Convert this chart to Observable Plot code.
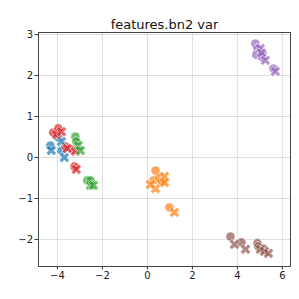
<!DOCTYPE html>
<html>
<head>
<meta charset="utf-8">
<script src="https://cdn.jsdelivr.net/npm/d3@7"></script>
<script src="https://cdn.jsdelivr.net/npm/@observablehq/plot@0.6"></script>
<style>
  html, body { margin: 0; padding: 0; background: #fff; }
</style>
</head>
<body>
<div id="chart"></div>
<script>
const title = "features.bn2 var";
const groups = ["g0", "g1", "g2", "g3", "g4", "g5"];
const palette = ["#1f77b4", "#ff7f0e", "#2ca02c", "#d62728", "#9467bd", "#8c564b"];

// circle markers
const circleGroup = ["g0","g0","g0", "g3","g3","g3","g3","g3", "g2","g2","g2","g2", "g1","g1","g1","g1","g1", "g4","g4","g4","g4","g4", "g5","g5","g5","g5","g5"];
const circleX = [-4.31,-3.96,-3.82, -4.18,-3.96,-3.64,-3.29,-3.24, -3.20,-3.16,-2.67,-2.53, 0.36,0.27,0.53,0.62,0.98, 4.80,4.89,4.84,5.11,5.60, 3.69,4.18,4.89,4.93,5.16];
const circleY = [0.29,0.49,0.17, 0.61,0.71,0.27,0.20,-0.22, 0.51,0.39,-0.56,-0.56, -0.32,-0.56,-0.49,-0.58,-1.22, 2.78,2.66,2.51,2.44,2.17, -1.93,-2.07,-2.09,-2.17,-2.22];

// cross markers
const crossGroup = ["g0","g0","g0", "g3","g3","g3","g3","g3", "g2","g2","g2","g2", "g1","g1","g1","g1","g1", "g4","g4","g4","g4","g4", "g5","g5","g5","g5","g5"];
const crossX = [-4.27,-3.82,-3.69, -4.04,-3.82,-3.56,-3.20,-3.16, -3.07,-2.98,-2.53,-2.40, 0.76,0.76,0.36,0.13,1.20, 5.02,5.11,5.07,5.24,5.69, 3.87,4.36,5.02,5.20,5.38];
const crossY = [0.17,0.39,0.00, 0.56,0.63,0.22,0.15,-0.29, 0.29,0.17,-0.68,-0.68, -0.46,-0.61,-0.76,-0.66,-1.34, 2.66,2.49,2.55,2.37,2.10, -2.12,-2.24,-2.24,-2.29,-2.34];

const xTicks = [-4, -2, 0, 2, 4, 6];
const yTicks = [-2, -1, 0, 1, 2, 3];

const circles = circleX.map((x, i) => ({x, y: circleY[i], g: circleGroup[i]}));
const crosses = crossX.map((x, i) => ({x, y: crossY[i], g: crossGroup[i]}));

// filled "X" symbol (rotated cross)
const symbolFilledX = {
  draw(context, size) {
    const r = Math.sqrt(size / 5) / 2;
    const pts = [[-3*r,-r],[-r,-r],[-r,-3*r],[r,-3*r],[r,-r],[3*r,-r],[3*r,r],[r,r],[r,3*r],[-r,3*r],[-r,r],[-3*r,r]];
    const c = Math.SQRT1_2;
    pts.forEach(([px, py], i) => {
      const qx = (px - py) * c, qy = (px + py) * c;
      if (i === 0) context.moveTo(qx, qy); else context.lineTo(qx, qy);
    });
    context.closePath();
  }
};

const chart = Plot.plot({
  width: 299,
  height: 299,
  marginTop: 32,
  marginLeft: 38,
  marginRight: 9,
  marginBottom: 33,
  style: {fontFamily: "DejaVu Sans", fontSize: "10px", color: "#222", background: "#fff"},
  x: {domain: [-4.84, 6.36], ticks: xTicks, tickSize: 3.5, tickPadding: 2, label: null, grid: false},
  y: {domain: [-2.66, 3.05], ticks: yTicks, tickSize: 3.5, tickPadding: 2, label: null, grid: false},
  color: {domain: groups, range: palette},
  marks: [
    Plot.gridX(xTicks, {stroke: "#b0b0b0", strokeOpacity: 0.5, strokeWidth: 0.8}),
    Plot.gridY(yTicks, {stroke: "#b0b0b0", strokeOpacity: 0.5, strokeWidth: 0.8}),
    Plot.dot(circles, {x: "x", y: "y", fill: "g", r: 4.6, fillOpacity: 0.7, stroke: "#fff", strokeWidth: 0.6}),
    Plot.dot(crosses, {x: "x", y: "y", fill: "g", r: 4.6, symbol: symbolFilledX, fillOpacity: 0.7, stroke: "#fff", strokeWidth: 0.6}),
    Plot.frame({stroke: "#333", strokeWidth: 0.9}),
    Plot.axisX(xTicks, {tickSize: 3.5, tickPadding: 2, stroke: "#333", fontSize: 10, fill: "#222"}),
    Plot.axisY(yTicks, {tickSize: 3.5, tickPadding: 2, stroke: "#333", fontSize: 10, fill: "#222"}),
    Plot.text([title], {frameAnchor: "top", dy: -13, fontSize: 13, fill: "#111", fontFamily: "DejaVu Sans"})
  ]
});
document.getElementById("chart").appendChild(chart);
</script>
</body>
</html>
